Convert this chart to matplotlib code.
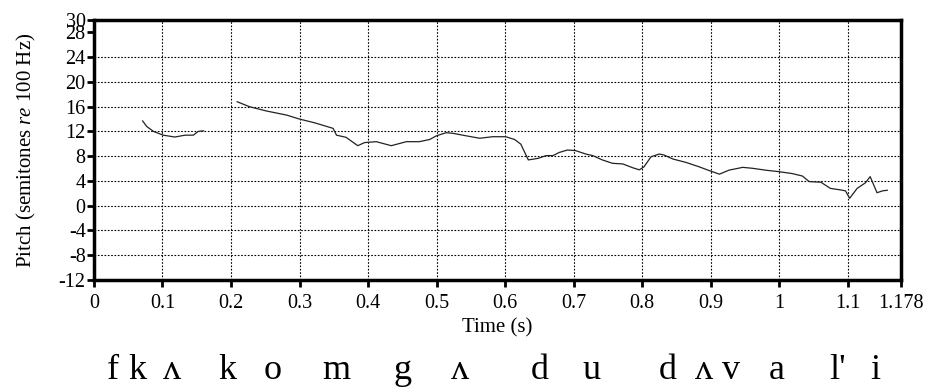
import matplotlib
matplotlib.use("Agg")
import matplotlib.pyplot as plt
import matplotlib.transforms as mtransforms
import numpy as np

# pitch track, first voiced stretch
t1 = [0.071, 0.077, 0.087, 0.101, 0.118, 0.133, 0.145, 0.152, 0.160]
p1 = [13.7, 12.8, 12.0, 11.4, 11.1, 11.4, 11.4, 12.0, 12.1]

# pitch track, second voiced stretch
t2 = [0.209, 0.227, 0.252, 0.281, 0.300, 0.322, 0.349, 0.354, 0.368, 0.385,
      0.395, 0.412, 0.434, 0.456, 0.475, 0.490, 0.500, 0.514, 0.524, 0.543,
      0.563, 0.582, 0.601, 0.614, 0.623, 0.634, 0.648, 0.660, 0.670, 0.679,
      0.691, 0.703, 0.718, 0.728, 0.742, 0.757, 0.772, 0.786, 0.796, 0.803,
      0.813, 0.825, 0.832, 0.845, 0.864, 0.883, 0.900, 0.913, 0.927, 0.947,
      0.961, 0.980, 1.000, 1.019, 1.034, 1.044, 1.061, 1.075, 1.090, 1.097,
      1.103, 1.114, 1.126, 1.133, 1.143, 1.151, 1.158]
p2 = [16.8, 16.0, 15.3, 14.65, 14.0, 13.4, 12.5, 11.4, 11.05, 9.7,
      10.2, 10.35, 9.7, 10.35, 10.35, 10.7, 11.3, 11.8, 11.7, 11.3,
      10.9, 11.15, 11.15, 10.7, 9.95, 7.4, 7.65, 8.1, 8.1, 8.6,
      9.0, 8.9, 8.35, 8.1, 7.4, 6.85, 6.75, 6.15, 5.8, 6.3,
      7.9, 8.35, 8.2, 7.55, 7.0, 6.3, 5.6, 5.1, 5.75, 6.2,
      6.05, 5.75, 5.5, 5.2, 4.8, 3.9, 3.8, 2.8, 2.55, 2.4,
      1.2, 2.8, 3.7, 4.7, 2.1, 2.4, 2.5]

xticks = [0, 0.1, 0.2, 0.3, 0.4, 0.5, 0.6, 0.7, 0.8, 0.9, 1.0, 1.1, 1.178]
xticklabels = ["0", "0.1", "0.2", "0.3", "0.4", "0.5", "0.6", "0.7", "0.8",
               "0.9", "1", "1.1", "1.178"]
yticks = [-12, -8, -4, 0, 4, 8, 12, 16, 20, 24, 28, 30]

# transcription under the plot, placed at time positions
segments = ["f", "k", "ʌ", "k", "o", "m", "g", "ʌ", "d", "u", "d", "ʌ", "v",
            "a", "l'", "i"]
seg_times = [0.028, 0.063, 0.114, 0.195, 0.261, 0.354, 0.450, 0.534, 0.650,
             0.726, 0.837, 0.890, 0.930, 0.996, 1.085, 1.141]

serif = ["Liberation Serif", "DejaVu Serif"]
plt.rcParams["font.family"] = serif
plt.rcParams["axes.unicode_minus"] = False
plt.rcParams["mathtext.fontset"] = "custom"
plt.rcParams["mathtext.rm"] = "Liberation Serif"
plt.rcParams["mathtext.it"] = "Liberation Serif:italic"

fig = plt.figure(figsize=(9.26, 3.87), dpi=100)
ax = fig.add_axes([0.1015, 0.2765, 0.8715, 0.6717])

ax.plot(t1, p1, color="#222222", lw=0.9)
ax.plot(t2, p2, color="#222222", lw=0.9)

ax.set_xlim(0, 1.178)
ax.set_ylim(-12, 30)
ax.set_xticks(xticks)
ax.set_xticklabels(xticklabels)
ax.set_yticks(yticks)

for v in xticks[1:-1]:
    ax.axvline(v, color="black", lw=0.8, ls=(0, (1.5, 1.5)), zorder=0)
for v in yticks[1:-2]:
    ax.axhline(v, color="black", lw=0.8, ls=(0, (1.5, 1.5)), zorder=0)

for s in ax.spines.values():
    s.set_linewidth(2.5)
ax.tick_params(axis="both", direction="out", length=5, width=2,
               labelsize=14.5)
ax.tick_params(axis="x", pad=5)
ax.tick_params(axis="y", pad=1)

ax.set_xlabel("Time (s)", fontsize=15, labelpad=4)
ax.set_ylabel("Pitch (semitones $\\it{re}$ 100 Hz)", fontsize=15,
              labelpad=15)

trans = mtransforms.blended_transform_factory(ax.transData, fig.transFigure)
for s, t in zip(segments, seg_times):
    ax.text(t, 0.021, s, transform=trans, ha="center", va="baseline",
            fontsize=26, clip_on=False)

fig.savefig("out.png", dpi=100)
